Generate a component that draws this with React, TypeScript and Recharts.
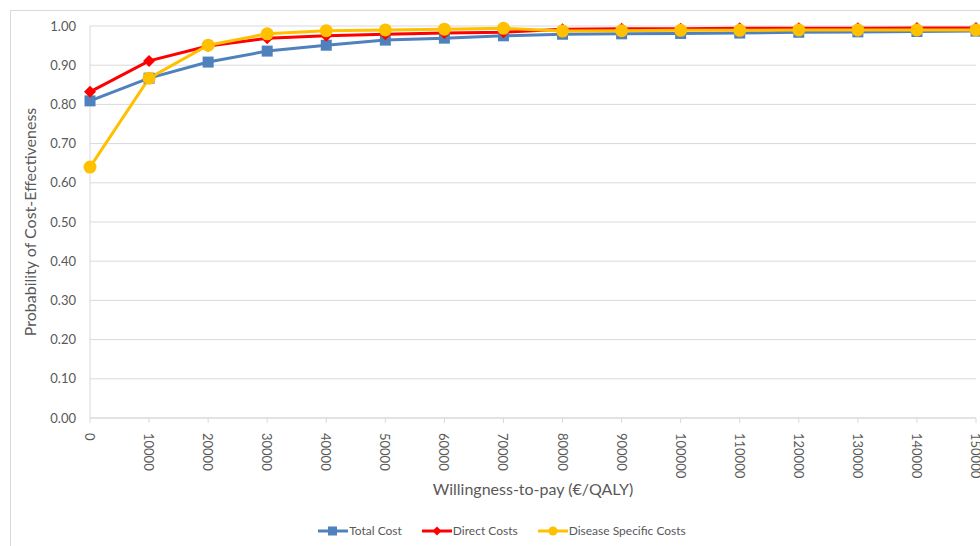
import React from 'react';
import { LineChart, Line, XAxis, YAxis, CartesianGrid, Label } from 'recharts';

const wtp = [0, 10000, 20000, 30000, 40000, 50000, 60000, 70000, 80000, 90000, 100000, 110000, 120000, 130000, 140000, 150000];
const totalCost = [0.809, 0.867, 0.908, 0.936, 0.951, 0.964, 0.969, 0.975, 0.979, 0.980, 0.981, 0.982, 0.984, 0.985, 0.986, 0.987];
const directCosts = [0.832, 0.911, 0.949, 0.969, 0.975, 0.979, 0.982, 0.984, 0.992, 0.993, 0.993, 0.994, 0.994, 0.994, 0.995, 0.995];
const diseaseCosts = [0.640, 0.867, 0.951, 0.980, 0.988, 0.990, 0.992, 0.994, 0.987, 0.988, 0.989, 0.989, 0.990, 0.990, 0.990, 0.990];
const yTicks = [0, 0.1, 0.2, 0.3, 0.4, 0.5, 0.6, 0.7, 0.8, 0.9, 1.0];

const seriesNames = ['Total Cost', 'Direct Costs', 'Disease Specific Costs'];
const colors = ['#4F81BD', '#FF0000', '#FFC000'];

const data = wtp.map((x, i) => ({ x, total: totalCost[i], direct: directCosts[i], disease: diseaseCosts[i] }));

const FONT = 'Lato, "Liberation Sans", sans-serif';
const TEXT = '#595959';
const GRID = '#d9d9d9';

const SquareDot = (props: any) => {
  const { cx, cy, key } = props;
  if (cx == null || cy == null) return null;
  return <rect key={key} x={cx - 5.5} y={cy - 5.5} width={11} height={11} fill={colors[0]} />;
};
const DiamondDot = (props: any) => {
  const { cx, cy, key } = props;
  if (cx == null || cy == null) return null;
  const r = 6;
  return <path key={key} d={`M${cx},${cy - r}L${cx + r},${cy}L${cx},${cy + r}L${cx - r},${cy}Z`} fill={colors[1]} />;
};
const CircleDot = (props: any) => {
  const { cx, cy, key } = props;
  if (cx == null || cy == null) return null;
  return <circle key={key} cx={cx} cy={cy} r={6.5} fill={colors[2]} />;
};

const XTick = (props: any) => {
  const { x, y, payload } = props;
  return (
    <text x={x} y={y + 8} transform={`rotate(90 ${x} ${y + 8})`} textAnchor="start" dominantBaseline="central"
      fill={TEXT} fontSize={13} fontFamily={FONT}>
      {payload.value}
    </text>
  );
};

const LegendIcon = ({ i }: { i: number }) => (
  <svg width={30} height={12} style={{ verticalAlign: 'middle' }}>
    <line x1={0} y1={6} x2={30} y2={6} stroke={colors[i]} strokeWidth={3} />
    {i === 0 && <rect x={10} y={1.5} width={9} height={9} fill={colors[0]} />}
    {i === 1 && <path d="M15,1.5L19.5,6L15,10.5L10.5,6Z" fill={colors[1]} />}
    {i === 2 && <circle cx={15} cy={6} r={4.5} fill={colors[2]} />}
  </svg>
);

export default function App() {
  return (
    <div style={{ position: 'fixed', left: 0, top: 0, width: 980, height: 546, overflow: 'hidden', background: '#fff' }}>
      <div style={{ position: 'absolute', left: 10, top: 10, width: 1100, height: 600, border: `1px solid ${GRID}` }} />
      <div style={{ position: 'absolute', left: 0, top: 0 }}>
        <LineChart width={1000} height={546} data={data} margin={{ top: 26, right: 24, left: 0, bottom: 0 }}>
          <CartesianGrid vertical={false} stroke={GRID} strokeWidth={1} />
          <XAxis
            dataKey="x"
            type="number"
            domain={[0, 150000]}
            ticks={wtp}
            interval={0}
            height={128}
            stroke={GRID}
            tickLine={{ stroke: GRID }}
            tickSize={5}
            tick={<XTick />}
          >
            <Label value="Willingness-to-pay (€/QALY)" position="insideTop" offset={66} fill={TEXT} fontSize={16} fontFamily={FONT} />
          </XAxis>
          <YAxis
            type="number"
            domain={[0, 1]}
            ticks={yTicks}
            interval={0}
            width={90}
            stroke={GRID}
            tickLine={false}
            tickFormatter={(v: number) => v.toFixed(2)}
            tick={{ fill: TEXT, fontSize: 13, fontFamily: FONT }}
            tickMargin={8}
          >
            <Label value="Probability of Cost-Effectiveness" angle={-90} position="insideLeft" offset={30} dy={0}
              fill={TEXT} fontSize={16} fontFamily={FONT} style={{ textAnchor: 'middle' }} />
          </YAxis>
          <Line dataKey="total" name={seriesNames[0]} stroke={colors[0]} strokeWidth={3} dot={<SquareDot />} activeDot={false} isAnimationActive={false} />
          <Line dataKey="direct" name={seriesNames[1]} stroke={colors[1]} strokeWidth={3} dot={<DiamondDot />} activeDot={false} isAnimationActive={false} />
          <Line dataKey="disease" name={seriesNames[2]} stroke={colors[2]} strokeWidth={3} dot={<CircleDot />} activeDot={false} isAnimationActive={false} />
        </LineChart>
      </div>
      <div style={{ position: 'absolute', top: 522, left: 0, width: 1004, display: 'flex', justifyContent: 'center', gap: 20, fontFamily: FONT, fontSize: 12, color: TEXT, lineHeight: '18px' }}>
        {seriesNames.map((n, i) => (
          <span key={n} style={{ display: 'inline-flex', alignItems: 'center', gap: 1 }}>
            <LegendIcon i={i} />{n}
          </span>
        ))}
      </div>
    </div>
  );
}
